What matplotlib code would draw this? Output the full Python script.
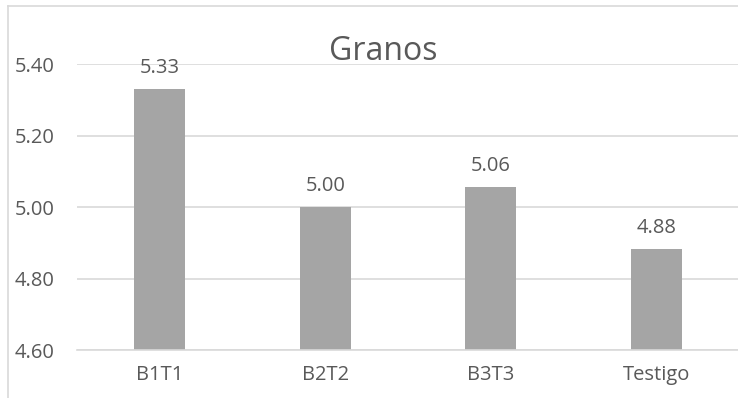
import matplotlib.pyplot as plt
from matplotlib.lines import Line2D

categories = ["B1T1", "B2T2", "B3T3", "Testigo"]
values = [5.33, 5.00, 5.055, 4.882]
labels = ["5.33", "5.00", "5.06", "4.88"]
yticks = [4.60, 4.80, 5.00, 5.20, 5.40]

plt.rcParams['font.family'] = ['Open Sans', 'DejaVu Sans']
text_color = '#595959'

fig = plt.figure(figsize=(7.38, 3.98), dpi=100)
ax = fig.add_axes([77 / 738, 1 - 350 / 398, 662 / 738, (350 - 64) / 398])

x = range(len(categories))
ax.bar(x, values, width=0.31, color='#A5A5A5', zorder=2)
for i, (v, lab) in enumerate(zip(values, labels)):
    ax.annotate(lab, (i, v), xytext=(0, 8), textcoords='offset points',
                ha='center', va='bottom', fontsize=14.5, color=text_color)

ax.set_xlim(-0.5, len(categories) - 0.5)
ax.set_ylim(4.6, 5.4)
ax.set_yticks(yticks)
ax.set_yticklabels(["%.2f" % t for t in yticks])
ax.set_xticks(list(x))
ax.set_xticklabels(categories)
ax.tick_params(axis='y', length=0, pad=16, labelsize=14.5, labelcolor=text_color)
ax.tick_params(axis='x', length=0, pad=11, labelsize=14.5, labelcolor=text_color)
ax.yaxis.grid(True, color='#D9D9D9', linewidth=1.2, zorder=0)
ax.set_axisbelow(True)
for s in ax.spines.values():
    s.set_visible(False)
ax.spines['bottom'].set_visible(True)
ax.spines['bottom'].set_color('#D9D9D9')
ax.spines['bottom'].set_linewidth(1.2)

fig.text(383 / 738, 1 - 51 / 398, "Granos", ha='center', va='center',
         fontsize=23, color=text_color)

# chart area border (top and left edges)
fig.add_artist(Line2D([8 / 738, 8 / 738], [0, 1 - 6 / 398], transform=fig.transFigure,
                      color='#D9D9D9', linewidth=1.2))
fig.add_artist(Line2D([8 / 738, 1], [1 - 6 / 398, 1 - 6 / 398], transform=fig.transFigure,
                      color='#D9D9D9', linewidth=1.2))

fig.savefig("out.png", dpi=100)
